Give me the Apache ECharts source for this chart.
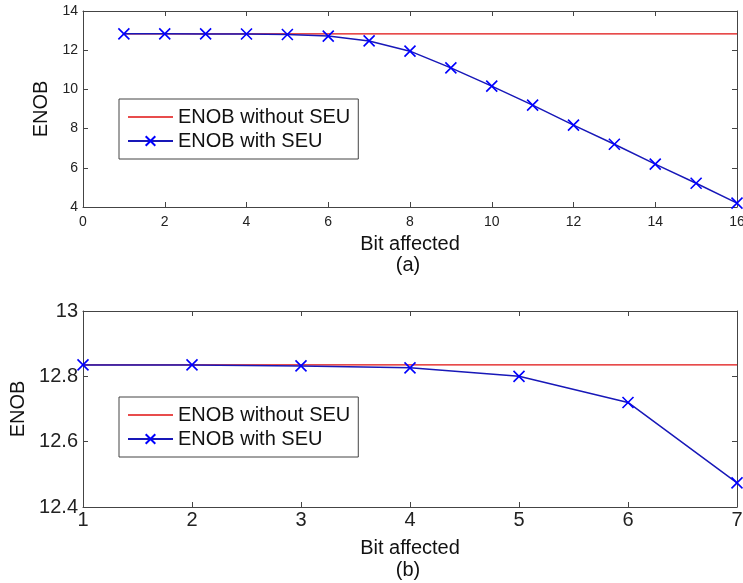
<!DOCTYPE html>
<html>
<head>
<meta charset="utf-8">
<script src="https://cdn.jsdelivr.net/npm/echarts@6/dist/echarts.min.js"></script>
<style>
  html, body { margin: 0; padding: 0; background: #fff; }
  #chart { width: 743px; height: 583px; }
</style>
</head>
<body>
<div id="chart"></div>
<script>
// Panel (a): all 16 bits
const bitsA = [1, 2, 3, 4, 5, 6, 7, 8, 9, 10, 11, 12, 13, 14, 15, 16];
const enobNoSeuA = [12.835, 12.835, 12.835, 12.835, 12.835, 12.835, 12.835, 12.835,
                    12.835, 12.835, 12.835, 12.835, 12.835, 12.835, 12.835, 12.835];
const enobSeuA = [12.835, 12.835, 12.832, 12.826, 12.80, 12.72, 12.474, 11.95,
                  11.1, 10.17, 9.2, 8.18, 7.2, 6.19, 5.21, 4.2];

// Panel (b): close-up of bits 1..7
const bitsB = [1, 2, 3, 4, 5, 6, 7];
const enobNoSeuB = [12.835, 12.835, 12.835, 12.835, 12.835, 12.835, 12.835];
const enobSeuB = [12.835, 12.835, 12.832, 12.826, 12.80, 12.72, 12.474];

const seriesNames = ['ENOB without SEU', 'ENOB with SEU'];
const xTitle = 'Bit affected';
const yTitle = 'ENOB';
const panelTags = ['(a)', '(b)'];

const FONT = 'Liberation Sans, Arial, Helvetica, sans-serif';
const AXIS = '#444';
const RED = '#e01010';
const BLUE_LINE = '#1818b8';
const BLUE_MARK = '#0000ff';
const CROSS = 'path://M0,0L10,10M10,0L0,10';
const THIN_LINE = 'path://M0,0L45,0L45,1.4L0,1.4Z';

const pairs = (xs, ys) => xs.map((x, i) => [x, ys[i]]);

function boxAxes(gridIndex, xMin, xMax, xInt, yMin, yMax, yInt, tickFont, yFmt, xNameGap, yNameGap) {
  const common = {
    gridIndex,
    axisLine: { show: true, onZero: false, lineStyle: { color: AXIS, width: 1 } },
    axisTick: { show: true, inside: true, length: 5, lineStyle: { color: AXIS } },
    splitLine: { show: false }
  };
  const x = [
    Object.assign({}, common, {
      type: 'value', position: 'bottom', min: xMin, max: xMax, interval: xInt,
      name: xTitle, nameLocation: 'middle', nameGap: xNameGap,
      nameTextStyle: { fontFamily: FONT, fontSize: 20, color: '#111' },
      axisLabel: { fontFamily: FONT, fontSize: tickFont, color: '#222', margin: tickFont > 16 ? 3 : 8,
                   showMinLabel: true, showMaxLabel: true, hideOverlap: false }
    }),
    Object.assign({}, common, {
      type: 'value', position: 'top', min: xMin, max: xMax, interval: xInt,
      axisLabel: { show: false }
    })
  ];
  const y = [
    Object.assign({}, common, {
      type: 'value', position: 'left', min: yMin, max: yMax, interval: yInt,
      name: yTitle, nameLocation: 'middle', nameGap: yNameGap, nameRotate: 90,
      nameTextStyle: { fontFamily: FONT, fontSize: 20, color: '#111' },
      axisLabel: { fontFamily: FONT, fontSize: tickFont, color: '#222', margin: 5, formatter: yFmt }
    }),
    Object.assign({}, common, {
      type: 'value', position: 'right', min: yMin, max: yMax, interval: yInt,
      axisLabel: { show: false }
    })
  ];
  return { x, y };
}

const axA = boxAxes(0, 0, 16, 2, 4, 14, 2, 14, v => String(Math.round(v)), 27, 24);
const axB = boxAxes(1, 1, 7, 1, 12.4, 13, 0.2, 20,
  v => (Math.round(v * 10) / 10).toString(), 31, 46);

function legendAt(left, top) {
  return {
    orient: 'vertical', left, top,
    data: [
      { name: seriesNames[0], icon: THIN_LINE },
      { name: seriesNames[1] }
    ],
    backgroundColor: '#fff',
    borderColor: AXIS, borderWidth: 1, borderRadius: 0,
    padding: [8, 8, 8, 8],
    itemWidth: 45, itemHeight: 12, itemGap: 4,
    textStyle: { fontFamily: FONT, fontSize: 20, color: '#111', lineHeight: 20 }
  };
}

function refSeries(name, xi, yi, data) {
  return {
    name, type: 'line', xAxisIndex: xi, yAxisIndex: yi, data,
    symbol: 'none', lineStyle: { color: RED, width: 1.2 }, itemStyle: { color: RED },
    z: 2
  };
}
function seuSeries(name, xi, yi, data) {
  return {
    name, type: 'line', xAxisIndex: xi, yAxisIndex: yi, data,
    symbol: CROSS, symbolSize: 11, showAllSymbol: true,
    lineStyle: { color: BLUE_LINE, width: 1.5 },
    itemStyle: { color: BLUE_MARK, borderColor: BLUE_MARK, borderWidth: 1.6 },
    z: 3
  };
}

function tag(text, y) {
  return {
    type: 'text', x: 408, y,
    style: { text, font: '20px ' + FONT, fill: '#111', textAlign: 'center', textVerticalAlign: 'top' }
  };
}

const chart = echarts.init(document.getElementById('chart'), null, { renderer: 'canvas' });
chart.setOption({
  animation: false,
  backgroundColor: '#fff',
  grid: [
    { left: 83, top: 11, right: 6, height: 196, containLabel: false, outerBoundsMode: 'none' },
    { left: 83, top: 311, right: 6, height: 196, containLabel: false, outerBoundsMode: 'none' }
  ],
  xAxis: axA.x.concat(axB.x.map(a => Object.assign(a, { gridIndex: 1 }))),
  yAxis: axA.y.concat(axB.y.map(a => Object.assign(a, { gridIndex: 1 }))),
  legend: [legendAt(119, 99), legendAt(119, 397)],
  graphic: [tag(panelTags[0], 255), tag(panelTags[1], 560)],
  series: [
    refSeries(seriesNames[0], 0, 0, pairs(bitsA, enobNoSeuA)),
    seuSeries(seriesNames[1], 0, 0, pairs(bitsA, enobSeuA)),
    refSeries(seriesNames[0], 2, 2, pairs(bitsB, enobNoSeuB)),
    seuSeries(seriesNames[1], 2, 2, pairs(bitsB, enobSeuB))
  ]
});
</script>
</body>
</html>
